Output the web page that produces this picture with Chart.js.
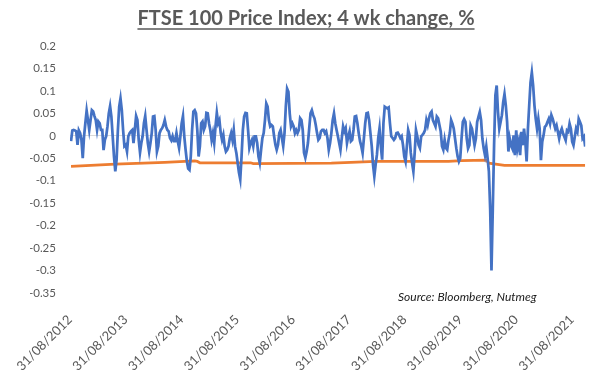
<!DOCTYPE html>
<html>
<head>
<meta charset="utf-8">
<title>FTSE 100 Price Index; 4 wk change, %</title>
<script src="https://cdn.jsdelivr.net/npm/chart.js@4.4.0/dist/chart.umd.min.js"></script>
<style>
  html, body { margin: 0; padding: 0; background: #ffffff; }
  #wrap { width: 602px; height: 370px; }
</style>
</head>
<body>
<div id="wrap"><canvas id="ftseChart" width="602" height="370"></canvas></div>
<script>
// first and last reading of the series, readings are evenly spaced in between
const firstObs = '07/09/2012';
const lastObs = '26/11/2021';

// FTSE 100 price index, 4 week change (fraction)
const fourWeekChange = [
  -0.012, 0.012, 0.013, 0.012, 0.010, -0.020, 0.012, 0.006, -0.009, -0.050,
  -0.001, 0.028, 0.056, 0.035, 0.013, 0.035, 0.057, 0.054, 0.044, 0.035,
  0.013, 0.032, 0.028, 0.013, 0.013, -0.032, -0.009, -0.001, 0.021, 0.050,
  0.066, 0.043, -0.001, -0.046, -0.079, -0.053, 0.013, 0.065, 0.083, 0.057,
  0.013, -0.023, -0.020, -0.035, -0.001, 0.006, 0.010, 0.013, -0.016, 0.013,
  0.044, 0.035, -0.009, -0.037, -0.016, -0.001, 0.028, 0.044, 0.013, -0.016,
  -0.035, -0.016, 0.006, 0.043, 0.044, 0.013, -0.035, -0.023, 0.006, 0.013,
  0.017, 0.024, 0.035, 0.021, 0.013, 0.010, -0.005, -0.010, -0.001, -0.012,
  -0.012, 0.006, -0.012, -0.027, -0.001, 0.028, 0.044, -0.001, -0.031, -0.057,
  -0.073, -0.076, -0.046, 0.013, 0.054, 0.057, 0.050, 0.013, -0.046,
  -0.023, 0.028, 0.032, 0.013, 0.021, 0.051, 0.050, 0.028, 0.013, -0.009,
  0.006, -0.016, 0.021, 0.051, 0.028, 0.035, 0.006, -0.009, 0.002, -0.023,
  -0.035, -0.031, -0.023, -0.005, 0.006, -0.009, 0.013, -0.023, -0.038, -0.060,
  -0.082, -0.097, -0.046, 0.013, 0.043, 0.051, 0.050, 0.013, -0.027, -0.016,
  -0.009, -0.023, -0.001, -0.001, -0.016, -0.046, -0.060, -0.031, -0.005, 0.006,
  0.035, 0.072, 0.065, 0.035, 0.021, 0.024, 0.021, -0.001, -0.020, -0.031,
  -0.020, 0.006, 0.013, -0.005, -0.023, 0.006, 0.065, 0.105, 0.098, 0.050,
  0.021, 0.028, 0.021, 0.006, 0.013, 0.006, 0.013, 0.039, 0.035, 0.013,
  -0.038, -0.049, -0.035, -0.016, 0.017, 0.050, 0.057, 0.046, 0.039, 0.024,
  0.006, -0.009, -0.005, 0.010, 0.013, 0.013, 0.006,
  0.010, -0.005, -0.031, -0.016, 0.006, 0.035, 0.050, 0.028, 0.013, -0.001,
  -0.016, -0.031, -0.005, 0.021, 0.010, 0.017, -0.016, -0.001, 0.010, -0.012,
  -0.009, 0.013, 0.043, 0.044, 0.028, 0.006, -0.012, -0.023, -0.038, -0.005,
  0.028, 0.050, 0.051, 0.035, 0.006, -0.023, -0.064, -0.090, -0.064, -0.042,
  -0.005, 0.017, -0.023, -0.053, 0.028, 0.065, 0.063, 0.061, 0.063, 0.028,
  -0.001, -0.005, -0.009, -0.005, 0.006, 0.007, 0.002, -0.005, -0.001, -0.020,
  -0.046, -0.057, -0.023, 0.013, 0.002, -0.038, -0.060, -0.079, -0.038, 0.013,
  -0.001, -0.020, -0.027, -0.001, 0.002, 0.006, 0.013, 0.035, 0.024, 0.039,
  0.050, 0.054, 0.035, 0.028, 0.021, 0.043, 0.039, 0.024, 0.010, -0.023,
  -0.031, -0.009, -0.027, -0.031, -0.009, 0.006, 0.035,
  0.027, 0.016, -0.006, -0.028, -0.046, -0.057, -0.050, -0.006, 0.031, 0.037,
  0.031, -0.006, -0.028, -0.021, 0.023, 0.016, -0.002, -0.021, -0.006, 0.031,
  0.042, 0.053, 0.035, -0.006, -0.028, -0.043, -0.024, -0.050, -0.079, -0.163,
  -0.300, -0.163, -0.021, 0.090, 0.112, 0.053, 0.016, 0.031, 0.046, 0.075,
  0.093, 0.068, 0.031, -0.035, -0.006, -0.021, -0.028, 0.001, -0.043, 0.012,
  -0.028, -0.013, -0.043, 0.009, -0.021, 0.016, -0.013, -0.057, 0.016, 0.068,
  0.119, 0.141, 0.112, 0.068, 0.038, 0.016, 0.038, 0.016, -0.054, -0.013,
  0.001, 0.020, 0.023, 0.031, 0.038, 0.027, 0.046, 0.038, 0.027, 0.016,
  0.023, 0.009, -0.006, 0.009, 0.016, 0.005, -0.002, -0.010, 0.012, 0.009,
  0.027, 0.016, -0.013, -0.021, -0.002, 0.016, 0.009, 0.038, 0.031, 0.023,
  -0.006, -0.002, -0.024
];

// orange line: reading number where it changes and its value
const refAt = [0, 34, 72, 95, 97, 99, 138, 140, 200, 215, 234, 290, 300, 319, 321, 333, 395];
const refVals = [-0.068, -0.063, -0.059, -0.056, -0.057, -0.060, -0.060, -0.062, -0.061, -0.059,
  -0.057, -0.057, -0.055, -0.054, -0.061, -0.066, -0.066];

const tickLabels = ['31/08/2012', '31/08/2013', '31/08/2014', '31/08/2015', '31/08/2016',
  '31/08/2017', '31/08/2018', '31/08/2019', '31/08/2020', '31/08/2021'];

const titleText = 'FTSE 100 Price Index; 4 wk change, %';
const sourceText = 'Source: Bloomberg, Nutmeg';

// dd/mm/yyyy -> ms
function parseDate(s) {
  let p = s.split('/');
  return Date.UTC(+p[2], +p[1] - 1, +p[0]);
}

let t0 = parseDate(firstObs);
let t1 = parseDate(lastObs);
let step = (t1 - t0) / (fourWeekChange.length - 1);
let tickTimes = tickLabels.map(parseDate);

function obsTime(i) {
  return t0 + i * step;
}

let bluePoints = fourWeekChange.map(function (v, i) { return { x: obsTime(i), y: v }; });
let orangePoints = refAt.map(function (n, i) { return { x: obsTime(n), y: refVals[i] }; });

const titleSize = 20;
const titlePad = { top: 7, bottom: 15 };

// underline under the title, and the source note
const extrasPlugin = {
  id: 'extras',
  afterDraw: function (chart) {
    let ctx = chart.ctx;
    let tb = chart.titleBlock;
    ctx.save();
    ctx.font = 'bold ' + titleSize + 'px Lato';
    let w = ctx.measureText(titleText).width;
    let cx = (tb.left + tb.right) / 2;
    let cy = tb.top + titlePad.top + titleSize * 1.2 / 2;
    ctx.strokeStyle = '#595959';
    ctx.lineWidth = 1.6;
    ctx.beginPath();
    ctx.moveTo(cx - w / 2, cy + 10);
    ctx.lineTo(cx + w / 2, cy + 10);
    ctx.stroke();

    ctx.font = 'italic 12px Lato';
    ctx.fillStyle = '#1a1a1a';
    ctx.textAlign = 'left';
    ctx.textBaseline = 'middle';
    ctx.fillText(sourceText, 398, 297);
    ctx.restore();
  }
};

Chart.defaults.font.family = 'Lato';
Chart.defaults.color = '#595959';

var ctx = document.getElementById('ftseChart').getContext('2d');
var chart = new Chart(ctx, {
  type: 'line',
  data: {
    datasets: [{
      label: 'FTSE 100 4 wk change',
      data: bluePoints,
      borderColor: '#4472C4',
      borderWidth: 2.75,
      pointRadius: 0,
      tension: 0
    }, {
      label: 'Reference',
      data: orangePoints,
      borderColor: '#ED7D31',
      borderWidth: 2.75,
      pointRadius: 0,
      tension: 0
    }]
  },
  options: {
    responsive: false,
    animation: false,
    devicePixelRatio: 1,
    layout: { padding: { left: 21, right: 11, top: 0, bottom: 0 } },
    plugins: {
      legend: { display: false },
      tooltip: { enabled: false },
      title: {
        display: true,
        text: titleText,
        color: '#595959',
        font: { size: titleSize, weight: 'bold', family: 'Lato' },
        padding: titlePad
      }
    },
    scales: {
      x: {
        type: 'linear',
        min: tickTimes[0],
        max: t1,
        grid: { display: false, drawTicks: false },
        border: { display: false },
        afterBuildTicks: function (axis) {
          axis.ticks = tickTimes.map(function (t) { return { value: t }; });
        },
        afterFit: function (axis) { axis.height = 77; },
        ticks: {
          autoSkip: false,
          minRotation: 45,
          maxRotation: 45,
          padding: 19,
          color: '#595959',
          font: { size: 13 },
          callback: function (value) {
            let i = tickTimes.indexOf(value);
            return i >= 0 ? tickLabels[i] : '';
          }
        }
      },
      y: {
        min: -0.35,
        max: 0.2,
        afterFit: function (axis) { axis.width = 40; },
        border: { display: false },
        grid: {
          drawTicks: false,
          lineWidth: 1,
          color: function (c) {
            return Math.abs(c.tick.value) < 1e-9 ? '#d9d9d9' : 'rgba(0,0,0,0)';
          }
        },
        ticks: {
          stepSize: 0.05,
          padding: 14,
          color: '#595959',
          font: { size: 11.5 },
          callback: function (value) { return String(+value.toFixed(2)); }
        }
      }
    }
  },
  plugins: [extrasPlugin]
});
</script>
</body>
</html>
